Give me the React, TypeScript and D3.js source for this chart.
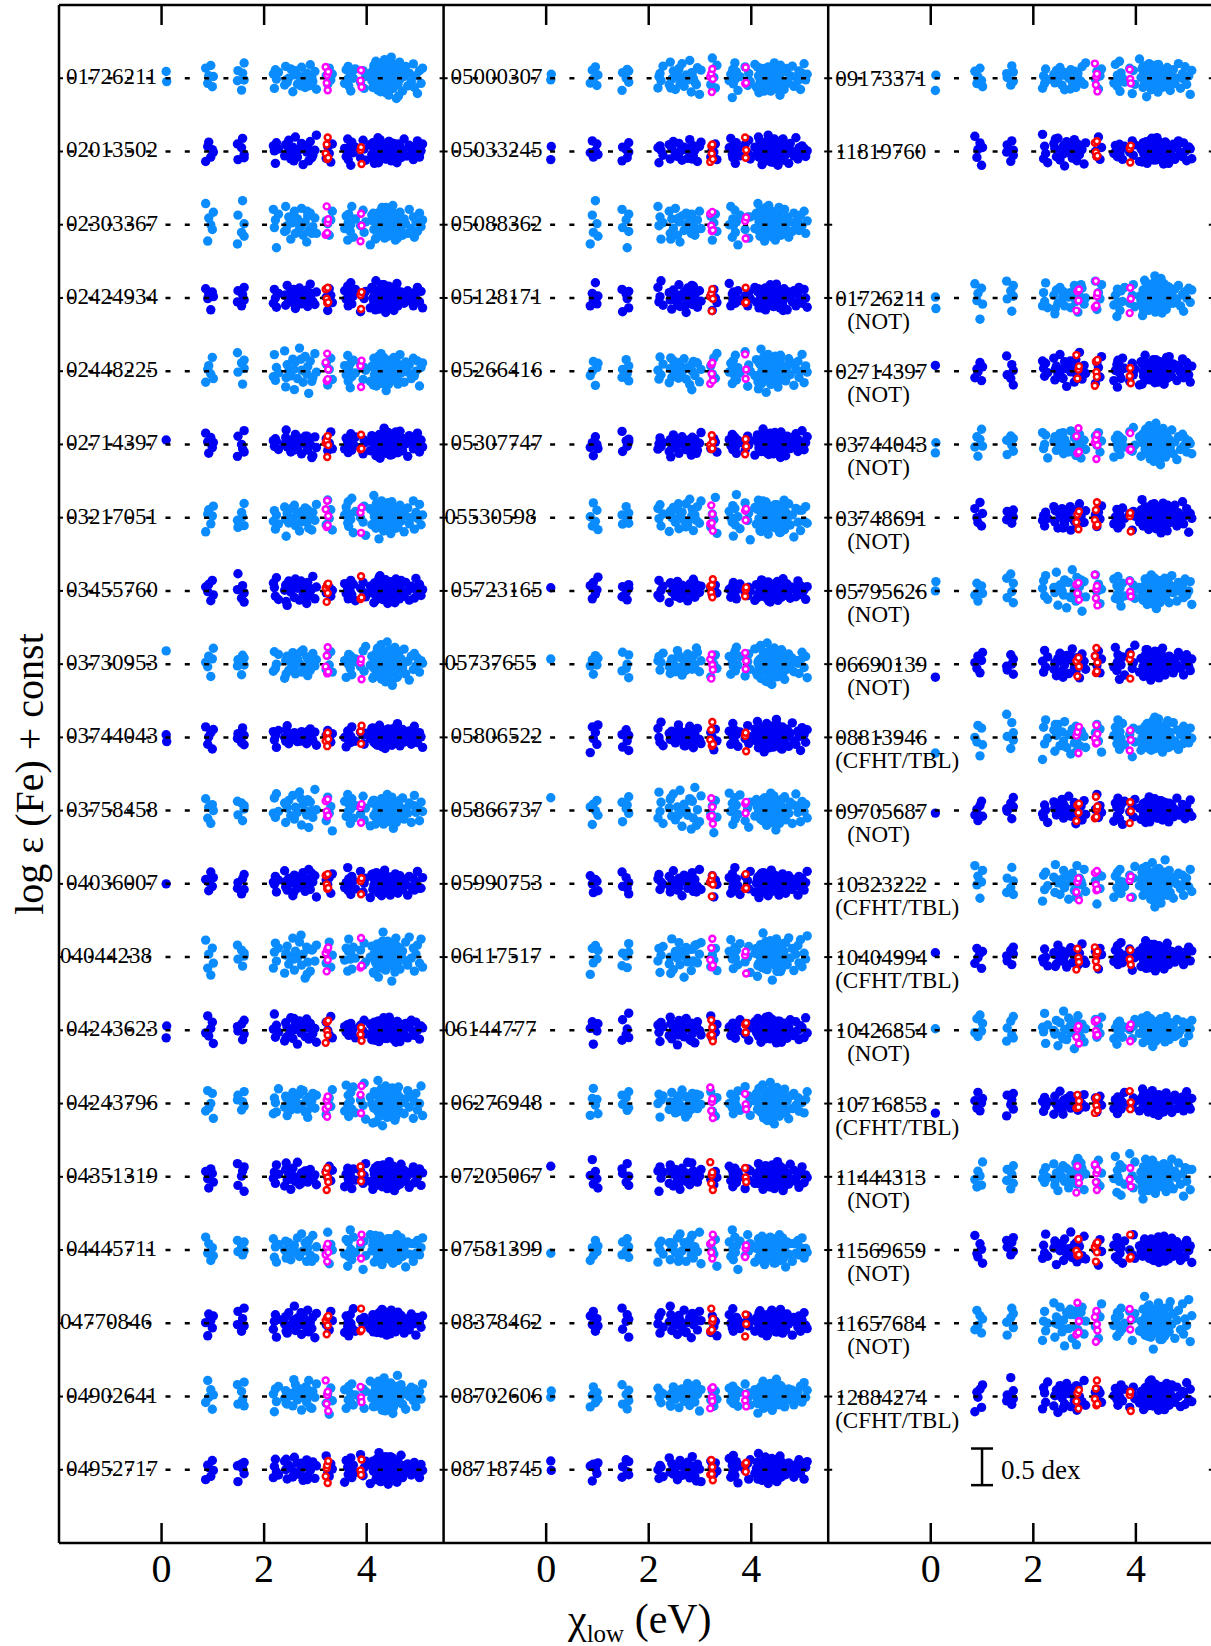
import React from "react";
import * as d3 from "d3";

const W = 1211;
const H = 1646;

// ---------- data ----------
const panel1Ids = ["01726211","02013502","02303367","02424934","02448225","02714397","03217051","03455760","03730953","03744043","03758458","04036007","04044238","04243623","04243796","04351319","04445711","04770846","04902641","04952717"];
const panel2Ids = ["05000307","05033245","05088362","05128171","05266416","05307747","05530598","05723165","05737655","05806522","05866737","05990753","06117517","06144777","06276948","07205067","07581399","08378462","08702606","08718745"];
const panel3Ids = ["09173371","11819760","","01726211","02714397","03744043","03748691","05795626","06690139","08813946","09705687","10323222","10404994","10426854","10716853","11444313","11569659","11657684","12884274"];
const panel3Tel = ["","","","NOT","NOT","NOT","NOT","NOT","NOT","CFHT/TBL","NOT","CFHT/TBL","CFHT/TBL","NOT","CFHT/TBL","NOT","NOT","NOT","CFHT/TBL"];

// number of very-low excitation (chi ~ 0.1 eV) lines shown per star
const panel1LowChi = [2,0,0,0,0,1,0,0,1,2,0,1,0,2,0,0,0,0,0,0];
const panel2LowChi = [2,2,0,0,0,0,0,1,1,0,1,0,0,0,0,1,1,0,2,2];
const panel3LowChi = [2,0,0,2,1,2,0,2,1,1,1,0,1,1,1,0,0,0,0];

// residual pattern offsets and scatter amplitude per star (estimated)
const panel1Shift = [0,37,71,13,54,90,22,66,5,81,45,29,98,60,17,75,33,50,88,9];
const panel2Shift = [42,3,77,58,19,94,31,68,11,85,47,26,101,63,8,72,36,55,92,15];
const panel3Shift = [24,61,0,83,40,6,97,52,18,74,35,89,12,57,79,28,46,103,65];
const panel1Scale = [1.1,0.95,1.25,1.0,1.2,0.95,1.15,1.0,1.15,0.8,1.1,0.95,1.3,0.95,1.2,1.0,1.05,1.0,1.1,1.0];
const panel2Scale = [1.05,0.95,1.25,1.0,1.15,0.9,1.2,0.8,1.1,1.05,1.2,0.95,1.25,1.0,1.1,1.0,1.05,1.0,0.9,0.95];
const panel3Scale = [1.0,1.0,1.0,1.15,1.1,1.1,1.05,1.1,1.1,1.2,0.95,1.25,0.95,1.0,0.85,1.2,1.05,1.4,1.1];

// Fe I line excitation potentials (eV)
const feIChi = [
  0.09, 0.10,
  0.86, 0.90, 0.92, 0.96, 0.99, 1.01,
  1.48, 1.49, 1.56, 1.58, 1.61, 1.61,
  2.18, 2.20, 2.22, 2.24, 2.28, 2.40, 2.42, 2.45, 2.48, 2.52, 2.56, 2.59, 2.61, 2.65, 2.69, 2.73, 2.76, 2.80, 2.83, 2.85, 2.87, 2.90, 2.95, 2.99, 3.02,
  3.21, 3.24, 3.27, 3.30, 3.33,
  3.57, 3.60, 3.63, 3.64, 3.65, 3.68, 3.69, 3.71, 3.74, 3.78,
  3.88, 3.93, 3.95, 3.98,
  4.07, 4.10, 4.14, 4.15, 4.18, 4.19, 4.21, 4.22, 4.24, 4.26, 4.28, 4.29, 4.30, 4.31, 4.33, 4.35, 4.37, 4.38, 4.39, 4.40, 4.42, 4.43, 4.45, 4.47, 4.48, 4.50, 4.52, 4.53, 4.55, 4.56, 4.58, 4.59, 4.61, 4.64, 4.65, 4.67, 4.70, 4.73, 4.76, 4.80, 4.83, 4.87, 4.91, 4.93, 4.96, 4.99, 5.03, 5.06, 5.09,
  2.43, 2.58, 2.72, 2.84, 2.93,
  4.12, 4.17, 4.20, 4.23, 4.25, 4.27, 4.32, 4.34, 4.36, 4.41, 4.44, 4.46, 4.49, 4.51, 4.54, 4.57, 4.60, 4.62, 4.13, 4.26, 4.30, 4.37,
];

// line-by-line residuals (0.01 dex), estimated from the scatter
const feIResidA = [
  8, -4,
  12, -6, 3, 15, -10, 2,
  -3, 9, -14, 6, 18, -2,
  5, -12, 10, -1, 7, -8, 14, -5, 0, 11, -16, 4, 9, -7, 2, 13, -3, -11, 6, 1, -9, 16, -4, 8, -13,
  3, -7, 12, -2, 5,
  -6, 10, -1, 14, -9, 4, -15, 7, 0, 11,
  -5, 9, -12, 2,
  6, -3, 15, -8, 20, -1, 9, -14, 3, 12, -6, 18, -10, 4, -2, 22, -17, 7, 0, -5, 13, -20, 10, -8, 25, 1, -12, 16, -3, 5, -24, 11, -7, 19, -1, 8, -15, 2, 14, -9, 6, -4, 17, -11, 3, -18, 9, -6, 12,
  -2, 7, -9, 4, 1,
  -11, 5, 14, -4, 9, -16, 2, 11, -7, 0, 19, -13, 6, -1, 15, -8, 3, -21, 10, -5, 8, -14,
];
const feIResidB = [
  -7, 10, 4, -13, 8, -2, 17, -9, 1, 12,
  -5, -15, 7, 3, -10, 14, -1, 6, -18, 9,
  2, -6, 11, -12, 5, 16, -3, -8, 13, 0,
  -14, 7, 4, -11, 19, -4, 10, -7, 2, -16,
  8, 15, -9, 3, -1, 12, -13, 6, 21, -5,
  -10, 9, 1, -19, 14, 4, -7, 11, -2, 18,
  -12, 7, -4, 23, -9, 3, 13, -21, 6, -1,
  10, -15, 16, -6, 2, 26, -11, 8, -3, -17,
  12, 5, -8, 20, -13, 1, 9, -22, 15, -2,
  7, -10, 18, 4, -14, 11, -5, 3, -19, 13,
  0, -7, 22, -12, 6, -3, 9,
  5, -8, 1, 11, -4,
  3, -12, 8, -1, 16, -6, 10, -15, 4, 13, -3, -9, 7, 0, -18, 12, -5, 9, -10, 2, 20, -7,
];

// Fe II lines (open circles)
const feIIChiHermes = [3.20, 3.22, 3.23, 3.24, 3.25, 3.88, 3.89, 3.90];
const feIIChiOther = [2.84, 2.86, 2.88, 2.89, 3.20, 3.22, 3.23, 3.24, 3.25, 3.88, 3.89, 3.90];
const feIIResid = [14, -6, 4, -15, 8, -3, 10, -11, 20, -9, 2, 6, -18, 12, -1, -7];

const xTicks = [0, 2, 4];
const flushLabels = ["04044238", "04770846", "05530598", "05737655", "06144777"];

// ---------- style ----------
const LIGHT = "#0a8cff";
const DARK = "#0000f5";
const FONT = "'Liberation Serif', 'Times New Roman', serif";

const panelLefts = [59, 443.6, 828.2];
const panelWidth = 384.6;
const yScale = d3.scaleLinear().domain([1, -20]).range([5, 1543]);

type Row = { id: string; tel: string; low: number; shift: number; scale: number; row: number; light: boolean; other: boolean };

function buildRows(ids: string[], tel: string[] | null, low: number[], shift: number[], scale: number[], panel: number): Row[] {
  const rows: Row[] = [];
  let k = 0;
  ids.forEach((id, i) => {
    if (!id) return;
    rows.push({
      id,
      tel: tel ? tel[i] : "",
      low: low[i],
      shift: shift[i],
      scale: scale[i],
      row: i,
      light: k % 2 === 0,
      other: panel === 2 && i >= 3,
    });
    k++;
  });
  return rows;
}

function Panel({ p, rows }: { p: number; rows: Row[] }) {
  const left = panelLefts[p];
  const x = d3.scaleLinear().domain([-2, 5.5]).range([left, left + panelWidth]);
  return (
    <g>
      {/* filled Fe I points */}
      {rows.map((r) => {
        const R = r.light ? feIResidA : feIResidB;
        const color = r.light ? LIGHT : DARK;
        const amp = r.scale * (r.light ? 1.05 : 0.9);
        return (
          <g key={"d" + r.id}>
            {feIChi.map((c, i) => {
              if (i < 2 && i >= r.low) return null;
              const res = (R[(i + r.shift) % R.length] / 100) * amp;
              return <circle key={i} cx={x(c)} cy={yScale(-r.row + res)} r={4.7} fill={color} />;
            })}
          </g>
        );
      })}
      {/* reference dashed lines */}
      {rows.map((r) => (
        <line key={"l" + r.id} x1={left + 10} x2={x(5.2)} y1={yScale(-r.row)} y2={yScale(-r.row)}
          stroke="#000" strokeWidth={2.5} strokeDasharray="5 14.3" />
      ))}
      {/* Fe II open circles */}
      {rows.map((r) => {
        const list = r.other ? feIIChiOther : feIIChiHermes;
        const color = r.light ? "#ff00ff" : "#ff0000";
        return (
          <g key={"c" + r.id}>
            {list.map((c, i) => {
              const res = (feIIResid[(i + r.shift) % feIIResid.length] / 100) * r.scale;
              return <circle key={i} cx={x(c)} cy={yScale(-r.row + res)} r={3} fill="#fff" stroke={color} strokeWidth={2.4} />;
            })}
          </g>
        );
      })}
      {/* row ticks */}
      {d3.range(20).map((i) => (
        <g key={"t" + i}>
          <line x1={left} x2={left + 4} y1={yScale(-i)} y2={yScale(-i)} stroke="#000" strokeWidth={2} />
          <line x1={left + panelWidth - 4} x2={left + panelWidth} y1={yScale(-i)} y2={yScale(-i)} stroke="#000" strokeWidth={2} />
        </g>
      ))}
      {/* x ticks top & bottom */}
      {xTicks.map((t) => (
        <g key={"x" + t}>
          <line x1={x(t)} x2={x(t)} y1={5} y2={25} stroke="#000" strokeWidth={2.5} />
          <line x1={x(t)} x2={x(t)} y1={1523} y2={1543} stroke="#000" strokeWidth={2.5} />
          <text x={x(t)} y={1582} textAnchor="middle" fontSize={40} fontFamily={FONT}>{t}</text>
        </g>
      ))}
      {/* labels */}
      {rows.map((r) => {
        const flush = flushLabels.includes(r.id) && p < 2;
        const lx = flush ? left + 1 : left + 7;
        const base = yScale(-r.row) + (p === 2 ? 8 : 6);
        return (
          <g key={"n" + r.id} fontFamily={FONT} fontSize={23}>
            <text x={lx} y={base}>{r.id}</text>
            {r.tel && (
              <text x={r.tel === "NOT" ? left + 19 : left + 7} y={base + 23}>({r.tel})</text>
            )}
          </g>
        );
      })}
    </g>
  );
}

export default function App() {
  const rows1 = buildRows(panel1Ids, null, panel1LowChi, panel1Shift, panel1Scale, 0);
  const rows2 = buildRows(panel2Ids, null, panel2LowChi, panel2Shift, panel2Scale, 1);
  const rows3 = buildRows(panel3Ids, panel3Tel, panel3LowChi, panel3Shift, panel3Scale, 2);
  const x3 = d3.scaleLinear().domain([-2, 5.5]).range([panelLefts[2], panelLefts[2] + panelWidth]);
  const barX = x3(1.0);
  const barC = yScale(-18.96);
  const half = yScale(0) - yScale(0.25);
  return (
    <svg width={W} height={H} style={{ position: "absolute", left: 0, top: 0, display: "block", background: "#fff" }}>
      <rect x={0} y={0} width={W} height={H} fill="#fff" />
      <Panel p={0} rows={rows1} />
      <Panel p={1} rows={rows2} />
      <Panel p={2} rows={rows3} />
      {/* frame */}
      <line x1={panelLefts[0]} x2={W + 5} y1={5} y2={5} stroke="#000" strokeWidth={2.5} />
      <line x1={panelLefts[0]} x2={W + 5} y1={1543} y2={1543} stroke="#000" strokeWidth={2.5} />
      {panelLefts.map((l) => (
        <line key={l} x1={l} x2={l} y1={5} y2={1543} stroke="#000" strokeWidth={2.5} />
      ))}
      {/* scale bar */}
      <g stroke="#000" strokeWidth={2.5}>
        <line x1={barX} x2={barX} y1={barC - half} y2={barC + half} />
        <line x1={barX - 11} x2={barX + 11} y1={barC - half} y2={barC - half} />
        <line x1={barX - 11} x2={barX + 11} y1={barC + half} y2={barC + half} />
      </g>
      <text x={1001} y={1479} fontSize={27} fontFamily={FONT}>0.5 dex</text>
      {/* axis titles */}
      <text x={568} y={1633} fontFamily={FONT} fontSize={42}>
        χ<tspan fontSize={25} dy={9}>low</tspan><tspan dy={-9}> (eV)</tspan>
      </text>
      <text transform="translate(43,774) rotate(-90)" textAnchor="middle" fontFamily={FONT} fontSize={40}>
        log ε (Fe) + const
      </text>
    </svg>
  );
}
